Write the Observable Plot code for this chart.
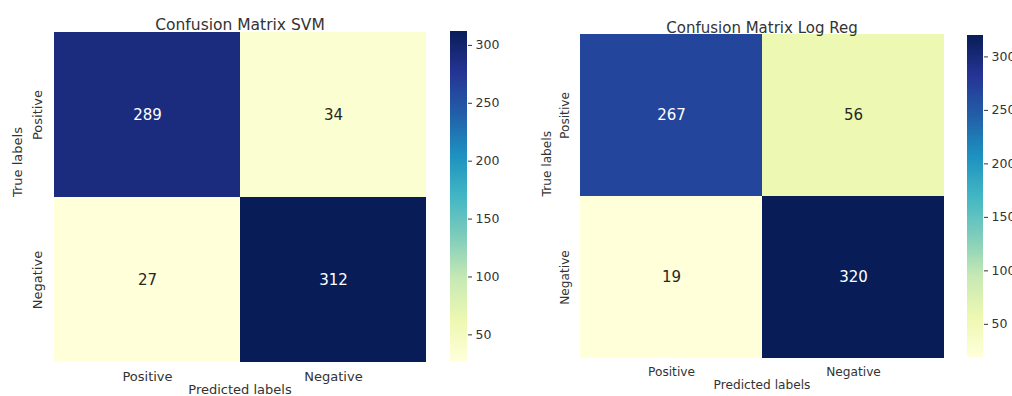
<!DOCTYPE html>
<html>
<head>
<meta charset="utf-8">
<script src="https://cdn.jsdelivr.net/npm/d3@7"></script>
<script src="https://cdn.jsdelivr.net/npm/@observablehq/plot@0.6"></script>
<style>
  body { margin: 0; background: #fff; }
  #fig { position: relative; width: 1012px; height: 396px; overflow: hidden; font-family: "DejaVu Sans", sans-serif; }
  #fig svg { position: absolute; top: 0; overflow: visible; }
</style>
</head>
<body>
<div id="fig"></div>
<script>
// Class labels (rows = true label, columns = predicted label)
const classLabels = ["Positive", "Negative"];

// Confusion matrix counts, row-major: [true][predicted]
const svmCounts = [[289, 34], [27, 312]];
const logRegCounts = [[267, 56], [19, 320]];

// Colorbar tick values
const colorbarTicks = [50, 100, 150, 200, 250, 300];

// Panel titles and axis titles
const panelTitles = ["Confusion Matrix SVM", "Confusion Matrix Log Reg"];
const xTitle = "Predicted labels";
const yTitle = "True labels";

// YlGnBu, linearly interpolated between the nine ColorBrewer stops
const ylgnbu = d3.piecewise(d3.interpolateRgb, [
  "#ffffd9", "#edf8b1", "#c7e9b4", "#7fcdbb", "#41b6c4",
  "#1d91c0", "#225ea8", "#253494", "#081d58"
]);

// Pick white or dark annotation text from the cell's luminance
function isDark(color) {
  const c = d3.rgb(color);
  const lin = v => { v /= 255; return v <= 0.03928 ? v / 12.92 : Math.pow((v + 0.055) / 1.055, 2.4); };
  const lum = 0.2126 * lin(c.r) + 0.7152 * lin(c.g) + 0.0722 * lin(c.b);
  return lum <= 0.408;
}

const fig = document.getElementById("fig");

function panel(counts, title, g) {
  const cells = counts.flatMap((row, i) => row.map((value, j) => ({
    actual: classLabels[i], predicted: classLabels[j], value
  })));
  const lo = d3.min(cells, d => d.value);
  const hi = d3.max(cells, d => d.value);
  const colorOf = v => ylgnbu((v - lo) / (hi - lo));
  const color = { type: "linear", domain: [lo, hi], interpolate: ylgnbu };

  const heat = Plot.plot({
    width: g.width, height: 396,
    marginLeft: g.ml, marginRight: g.mr, marginTop: g.mt, marginBottom: g.mb,
    style: { fontFamily: "DejaVu Sans, sans-serif", fontSize: g.tickFont + "px", color: "#333", background: "transparent" },
    x: { domain: classLabels, padding: 0, label: null },
    y: { domain: classLabels, padding: 0, label: null },
    color,
    marks: [
      Plot.cell(cells, { x: "predicted", y: "actual", fill: "value", inset: 0 }),
      Plot.text(cells.filter(d => isDark(colorOf(d.value))), {
        x: "predicted", y: "actual", text: d => String(d.value), fill: "white", fontSize: 15
      }),
      Plot.text(cells.filter(d => !isDark(colorOf(d.value))), {
        x: "predicted", y: "actual", text: d => String(d.value), fill: "#262626", fontSize: 15
      }),
      Plot.axisX({ tickSize: 0, tickPadding: g.xPad, label: null }),
      Plot.axisY({ tickSize: 0, tickRotate: -90, tickPadding: g.yPad, label: null }),
      Plot.text([title], { frameAnchor: "top", dy: g.titleDy, fontSize: g.titleFont, fill: "#333" }),
      Plot.text([xTitle], { frameAnchor: "bottom", dy: g.xTitleDy, fill: "#333" }),
      Plot.text([yTitle], { frameAnchor: "left", dx: g.yTitleDx, rotate: -90, fill: "#333" })
    ]
  });
  heat.style.left = g.left + "px";
  fig.appendChild(heat);

  // Vertical colorbar
  const step = (hi - lo) / 330;
  const stops = d3.range(lo, hi, step);
  const bar = Plot.plot({
    width: g.cbWidth + 50, height: 396,
    marginLeft: 0, marginRight: 50, marginTop: g.cbTop, marginBottom: 396 - g.cbBottom,
    style: { fontFamily: "DejaVu Sans, sans-serif", fontSize: g.cbFont + "px", color: "#333", background: "transparent" },
    y: { domain: [lo, hi] },
    color,
    marks: [
      Plot.rect(stops, {
        y1: d => d, y2: d => Math.min(d + step * 1.5, hi), fill: d => d + step / 2,
        shapeRendering: "crispEdges"
      }),
      Plot.axisY(colorbarTicks, { anchor: "right", tickSize: 4, tickPadding: 4, label: null })
    ]
  });
  bar.style.left = g.cbLeft + "px";
  fig.appendChild(bar);
}

panel(svmCounts, panelTitles[0], {
  left: 0, width: 440, ml: 53, mr: 14, mt: 31, mb: 34,
  tickFont: 13, xPad: 9, yPad: 12, titleDy: -12.5, titleFont: 15.5,
  xTitleDy: 31, yTitleDx: -35.5,
  cbLeft: 450, cbWidth: 17, cbTop: 31, cbBottom: 361, cbFont: 12.5
});

panel(logRegCounts, panelTitles[1], {
  left: 500, width: 460, ml: 79, mr: 16, mt: 34, mb: 38,
  tickFont: 12.2, xPad: 9, yPad: 11, titleDy: -12, titleFont: 15,
  xTitleDy: 30.5, yTitleDx: -32.5,
  cbLeft: 967, cbWidth: 16, cbTop: 35, cbBottom: 357, cbFont: 12.5
});
</script>
</body>
</html>
